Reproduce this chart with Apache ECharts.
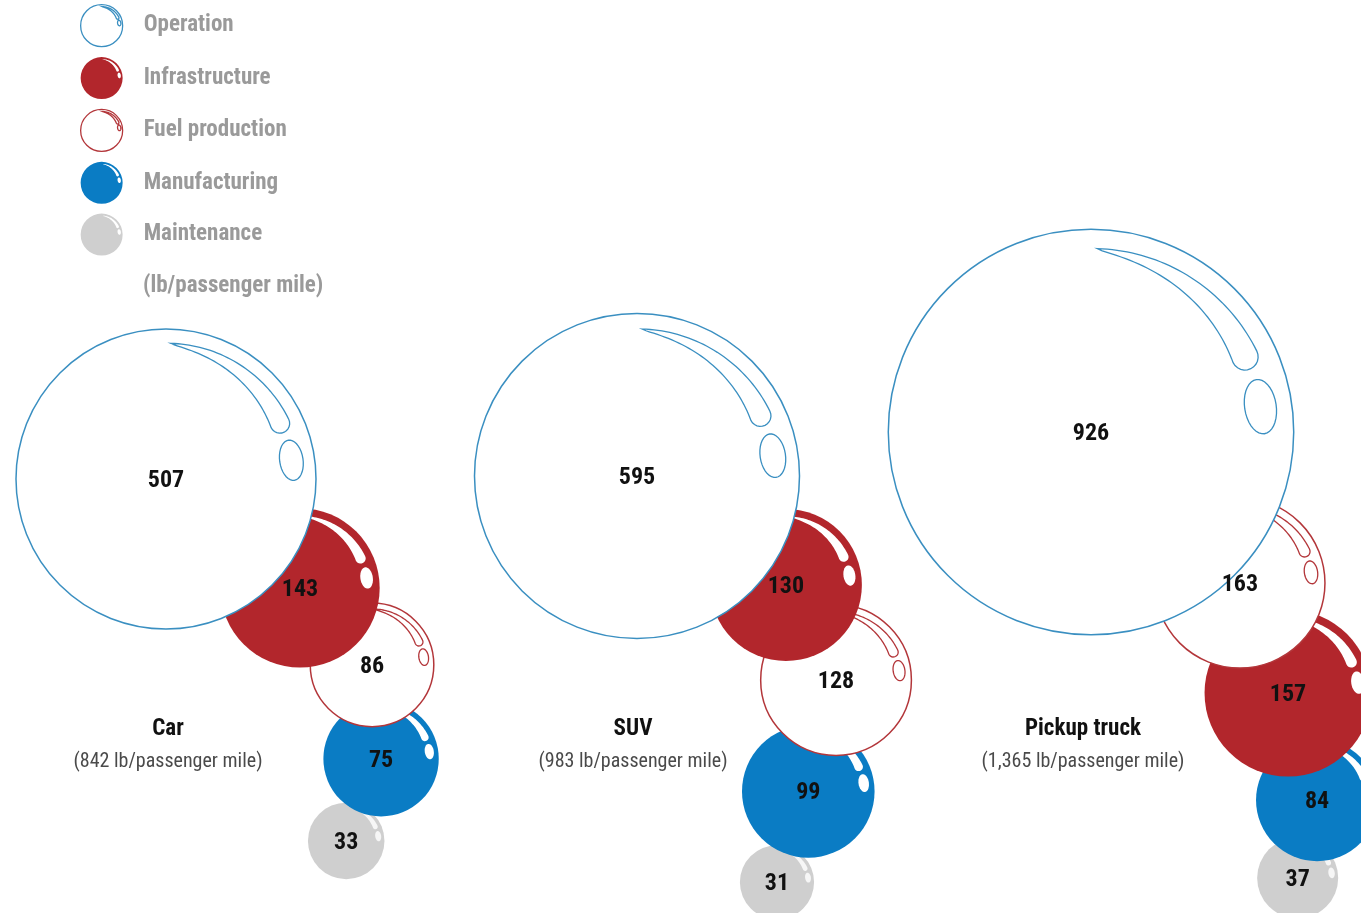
<!DOCTYPE html>
<html><head><meta charset="utf-8">
<script src="https://cdn.jsdelivr.net/npm/echarts@6/dist/echarts.min.js"></script>
<style>html,body{margin:0;padding:0;background:#fff}#chart{width:1361px;height:913px}</style>
</head><body><div id="chart"></div>
<script>
// ---------- data ----------
const vehicles = ['Car', 'SUV', 'Pickup truck'];
const vehicleTotals = ['842', '983', '1,365'];
const components = ['Operation', 'Infrastructure', 'Fuel production', 'Manufacturing', 'Maintenance'];
const operation = [507, 595, 926];
const infrastructure = [143, 130, 157];
const fuelProduction = [86, 128, 163];
const manufacturing = [75, 99, 84];
const maintenance = [33, 31, 37];
const unitLabel = '(lb/passenger mile)';
const seriesValues = [operation, infrastructure, fuelProduction, manufacturing, maintenance];

// ---------- layout ----------
const BASELINE = 634;          // y-axis value where the largest bubbles rest
const TITLE_Y = 729, SUB_Y = 762;
const RADIUS_PER_SQRT = 150 / Math.sqrt(507);   // area-proportional bubbles
const stackOrder = [[0,1,2,3,4],[0,1,2,3,4],[0,2,1,3,4]];
const chainAngle = [[39.1,46.9,84.5,113],[36.2,62.2,104,109],[45.4,66.4,74.8,104]];
const chainOverlap = [[0.752,0.745,0.79,0.93],[0.774,0.71,0.81,0.93],[0.737,0.713,0.767,0.79]];
const groupNudge = [[-2,-5],[9,4.5],[3,0.7]];
const labelNudge = [0,5,-5];

const FONT = "'Roboto Condensed','Open Sans Condensed','Liberation Sans',sans-serif";
const styles = [
  {fill:'#ffffff', stroke:'#3a8fc1', outline:true},
  {fill:'#b2262c', outline:false, hl:1},
  {fill:'#ffffff', stroke:'#b3363a', outline:true},
  {fill:'#0a7cc4', outline:false, hl:1},
  {fill:'#cfcfcf', outline:false, hl:0.8}
];

function radiusOf(v){ return RADIUS_PER_SQRT * Math.sqrt(v); }

// highlight shapes in unit-circle coordinates (screen, y down)
function bandPoints(n){
  const a0 = -88, a1 = -26, pts = [];
  for (let i=0;i<=n;i++){ const t=i/n, a=(a0+(a1-a0)*t)*Math.PI/180, rr=0.905+0.005*t; pts.push([rr*Math.cos(a), rr*Math.sin(a)]); }
  const am = a1*Math.PI/180, rc = 0.845, hw = 0.065;
  const ux=Math.cos(am), uy=Math.sin(am), tx=-Math.sin(am), ty=Math.cos(am);
  const cx = rc*ux, cy = rc*uy, m = 12;
  for (let i=1;i<m;i++){ const p=Math.PI*i/m; pts.push([cx+hw*(Math.cos(p)*ux+Math.sin(p)*tx), cy+hw*(Math.cos(p)*uy+Math.sin(p)*ty)]); }
  for (let i=n;i>=0;i--){ const t=i/n, a=(a0+(a1-a0)*t)*Math.PI/180, rr=0.905-0.125*Math.pow(t,0.7); pts.push([rr*Math.cos(a), rr*Math.sin(a)]); }
  return pts;
}
function ovalPoints(n){
  const a = -8.5*Math.PI/180, rc = 0.845, rx = 0.078, ry = 0.135;
  const ux=Math.cos(a), uy=Math.sin(a), tx=-Math.sin(a), ty=Math.cos(a);
  const cx=rc*ux, cy=rc*uy, pts=[];
  for (let i=0;i<n;i++){ const t=2*Math.PI*i/n; pts.push([cx+rx*Math.cos(t)*ux+ry*Math.sin(t)*tx, cy+rx*Math.cos(t)*uy+ry*Math.sin(t)*ty]); }
  return pts;
}
const BAND = bandPoints(40), OVAL = ovalPoints(36);

function iconPath(){
  const s = p => (50+50*p[0]).toFixed(2)+' '+(50+50*p[1]).toFixed(2);
  let d = 'path://M50 0A50 50 0 1 1 50 100A50 50 0 1 1 50 0Z';
  const b = BAND.slice().reverse(), o = OVAL.slice().reverse();
  d += 'M'+b.map(s).join('L')+'Z';
  d += 'M'+o.map(s).join('L')+'Z';
  return d;
}
const ICON = iconPath();

function makeRender(c){
  return function(params, api){
    const g = api.value(0);
    const order = stackOrder[g];
    const k = order.indexOf(c);
    const anchor = api.coord([g, BASELINE]);
    let r = radiusOf(seriesValues[order[0]][g]);
    let cx = anchor[0] + groupNudge[g][0], cy = anchor[1] - r + groupNudge[g][1];
    for (let j=1;j<=k;j++){
      const rj = radiusOf(seriesValues[order[j]][g]);
      const d = (r + rj) * chainOverlap[g][j-1];
      const a = chainAngle[g][j-1]*Math.PI/180;
      cx += d*Math.cos(a); cy += d*Math.sin(a); r = rj;
    }
    const st = styles[c], z = (5-k)*10;
    const sc = pts => pts.map(p => [cx + p[0]*r, cy + p[1]*r]);
    const hlStyle = st.outline
      ? {fill:'#ffffff', stroke:st.stroke, lineWidth:1.3}
      : {fill:'#ffffff', opacity:st.hl};
    return {type:'group', children:[
      {type:'circle', shape:{cx, cy, r}, z2:z,
       style: st.outline ? {fill:'#ffffff', stroke:st.stroke, lineWidth:1.5} : {fill:st.fill}},
      {type:'polygon', shape:{points:sc(BAND)}, z2:z+1, style:hlStyle},
      {type:'polygon', shape:{points:sc(OVAL)}, z2:z+1, style:hlStyle},
      {type:'text', z2:200, style:{text:String(api.value(1)), x:cx, y:cy+2, align:'center', verticalAlign:'middle',
        font:'bold 24px '+FONT, fill:'#111'}}
    ]};
  };
}

const series = components.map((name, c) => ({
  name, type:'custom', coordinateSystem:'cartesian2d',
  itemStyle: styles[c].outline ? {color:'#ffffff', borderColor:styles[c].stroke, borderWidth:1.5} : {color:styles[c].fill},
  renderItem: makeRender(c),
  data: vehicles.map((v, g) => [g, seriesValues[c][g]]),
  animation:false
}));
series.push({
  name:'labels', type:'custom', coordinateSystem:'cartesian2d', animation:false,
  data: vehicles.map((v, g) => [g]),
  renderItem: function(params, api){
    const g = api.value(0);
    const p1 = api.coord([g, TITLE_Y]), p2 = api.coord([g, SUB_Y]);
    const x = p1[0] + labelNudge[g];
    return {type:'group', children:[
      {type:'text', style:{text:vehicles[g], x, y:p1[1], align:'center', verticalAlign:'middle', font:'bold 23px '+FONT, fill:'#111'}},
      {type:'text', style:{text:'('+vehicleTotals[g]+' lb/passenger mile)', x, y:p2[1], align:'center', verticalAlign:'middle', font:'normal 20px '+FONT, fill:'#4a4a4a'}}
    ]};
  }
});

const chart = echarts.init(document.getElementById('chart'));
chart.setOption({
  backgroundColor:'#ffffff',
  animation:false,
  grid:{left:0, right:0, top:0, bottom:0},
  xAxis:{type:'value', min:-168/460, max:(1361-168)/460, show:false},
  yAxis:{type:'value', min:0, max:913, inverse:true, show:false},
  legend:{
    orient:'vertical', left:80, top:4, padding:0, itemWidth:42, itemHeight:42, itemGap:9.75,
    selectedMode:false,
    textStyle:{fontFamily:FONT, fontWeight:'bold', fontSize:23, color:'#9a9a9a', padding:[0,0,0,16]},
    data: components.map((name, c) => ({
      name, icon: ICON,
      itemStyle: styles[c].outline ? {color:'#ffffff', borderColor:styles[c].stroke, borderWidth:1.3} : {color:styles[c].fill, borderWidth:0}
    }))
  },
  graphic:[{type:'text', left:143, top:275, style:{text:unitLabel, font:'bold 23px '+FONT, fill:'#9a9a9a'}}],
  series
});
</script></body></html>
